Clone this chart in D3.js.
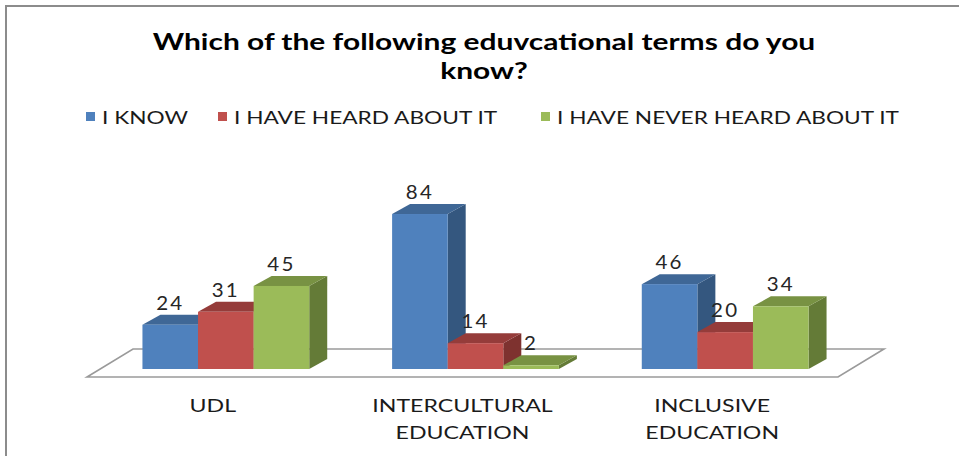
<!DOCTYPE html>
<html>
<head>
<meta charset="utf-8">
<script src="https://cdn.jsdelivr.net/npm/d3@7"></script>
<style>
  html, body { margin: 0; padding: 0; background: #fff; }
  svg { display: block; }
  text { font-family: Lato, "Open Sans", "DejaVu Sans", sans-serif; }
</style>
</head>
<body>
<svg id="chart" width="959" height="456"></svg>
<script>
// Survey answers per term
const titleLines = ["Which of the following eduvcational terms do you", "know?"];
const categories = ["UDL", "INTERCULTURAL EDUCATION", "INCLUSIVE EDUCATION"];
const categoryLines = [["UDL"], ["INTERCULTURAL", "EDUCATION"], ["INCLUSIVE", "EDUCATION"]];
const seriesNames = ["I KNOW", "I HAVE HEARD ABOUT IT", "I HAVE NEVER HEARD ABOUT IT"];
const iKnow = [24, 84, 46];
const heardAbout = [31, 14, 20];
const neverHeard = [45, 2, 34];

const seriesValues = [iKnow, heardAbout, neverHeard];
const palette = [
  { front: "#4F81BD", top: "#3F6796", side: "#34577F" },
  { front: "#C0504D", top: "#953C3A", side: "#7E322F" },
  { front: "#9BBB59", top: "#789243", side: "#647B37" }
];

const svg = d3.select("#chart");

// Frame of the chart area
svg.append("path")
  .attr("d", "M6,460 L6,6 L962,6")
  .attr("fill", "none").attr("stroke", "#8c8c8c").attr("stroke-width", 2);

// Oblique projection: bars sit on a plane at y = baseY, depth goes up-right
const baseY = 369;
const barDepth = { dx: 18, dy: -10 };
const floorFront = { dx: -13, dy: 8 };
const floorBack = { dx: 33, dy: -20 };

const x = d3.scaleBand().domain(categories).range([100, 851])
  .paddingInner(0.332).paddingOuter(0.17);
const xs = d3.scaleBand().domain(seriesNames).range([0, x.bandwidth()]);
const h = d3.scaleLinear().domain([0, 100]).range([0, 184.5]);

// Floor
const fl = x.range()[0], fr = x.range()[1];
svg.append("path")
  .attr("d", d3.line()([
    [fl + floorFront.dx, baseY + floorFront.dy],
    [fr + floorFront.dx, baseY + floorFront.dy],
    [fr + floorBack.dx, baseY + floorBack.dy],
    [fl + floorBack.dx, baseY + floorBack.dy]
  ]) + "Z")
  .attr("fill", "#fff").attr("stroke", "#9a9a9a").attr("stroke-width", 1.6);

// Bars, drawn left to right so later faces overlap earlier ones
const bars = [];
categories.forEach((c, ci) => {
  seriesNames.forEach((s, si) => {
    bars.push({ c, s, si, v: seriesValues[si][ci] });
  });
});
const gBars = svg.append("g");
bars.forEach(d => {
  const x0 = x(d.c) + xs(d.s), w = xs.bandwidth();
  const top = baseY - h(d.v);
  const col = palette[d.si];
  const g = gBars.append("g");
  // side face
  g.append("path").attr("d", d3.line()([
    [x0 + w, top], [x0 + w + barDepth.dx, top + barDepth.dy],
    [x0 + w + barDepth.dx, baseY + barDepth.dy], [x0 + w, baseY]
  ]) + "Z").attr("fill", col.side);
  // top face
  g.append("path").attr("d", d3.line()([
    [x0, top], [x0 + barDepth.dx, top + barDepth.dy],
    [x0 + w + barDepth.dx, top + barDepth.dy], [x0 + w, top]
  ]) + "Z").attr("fill", col.top);
  // front face
  g.append("rect").attr("x", x0).attr("y", top)
    .attr("width", w).attr("height", baseY - top).attr("fill", col.front);
});

// Horizontal stretch applied to all text
const probe = svg.append("text").attr("font-size", 22).attr("font-weight", 700).text(titleLines[0]);
const sx = 663 / probe.node().getComputedTextLength();
probe.remove();

function stretchedText(parent, tx, ty, str, opts) {
  const t = parent.append("text")
    .attr("transform", `translate(${tx},${ty}) scale(${opts.sx || sx},1)`)
    .attr("text-anchor", opts.anchor || "middle")
    .attr("font-size", opts.size)
    .attr("font-weight", opts.weight || 400)
    .attr("fill", opts.fill || "#000")
    .text(str);
  if (opts.spacing) t.attr("letter-spacing", opts.spacing);
  return t;
}

// Title
titleLines.forEach((line, i) => {
  stretchedText(svg, 484, 50 + i * 29, line, { size: 22, weight: 700 });
});

// Legend
const legendX = [86, 218, 541];
seriesNames.forEach((s, i) => {
  svg.append("rect").attr("x", legendX[i]).attr("y", 112).attr("width", 9).attr("height", 9)
    .attr("fill", palette[i].front);
  stretchedText(svg, legendX[i] + 16, 124, s, { size: 17, anchor: "start", fill: "#1a1a1a", sx: sx * 0.98 });
});

// Value labels above each bar
bars.forEach(d => {
  const cx = x(d.c) + xs(d.s) + xs.bandwidth() / 2;
  const top = baseY - h(d.v) + barDepth.dy;
  stretchedText(svg, cx, top - 5, d.v, { size: 19, fill: "#262626", spacing: 2, sx: 1.08 });
});

// Category labels along the front edge of the floor
categories.forEach((c, i) => {
  const cx = x(c) + x.bandwidth() / 2 + floorFront.dx;
  categoryLines[i].forEach((line, j) => {
    stretchedText(svg, cx, 412 + j * 27, line, { size: 17, fill: "#1a1a1a" });
  });
});
</script>
</body>
</html>
